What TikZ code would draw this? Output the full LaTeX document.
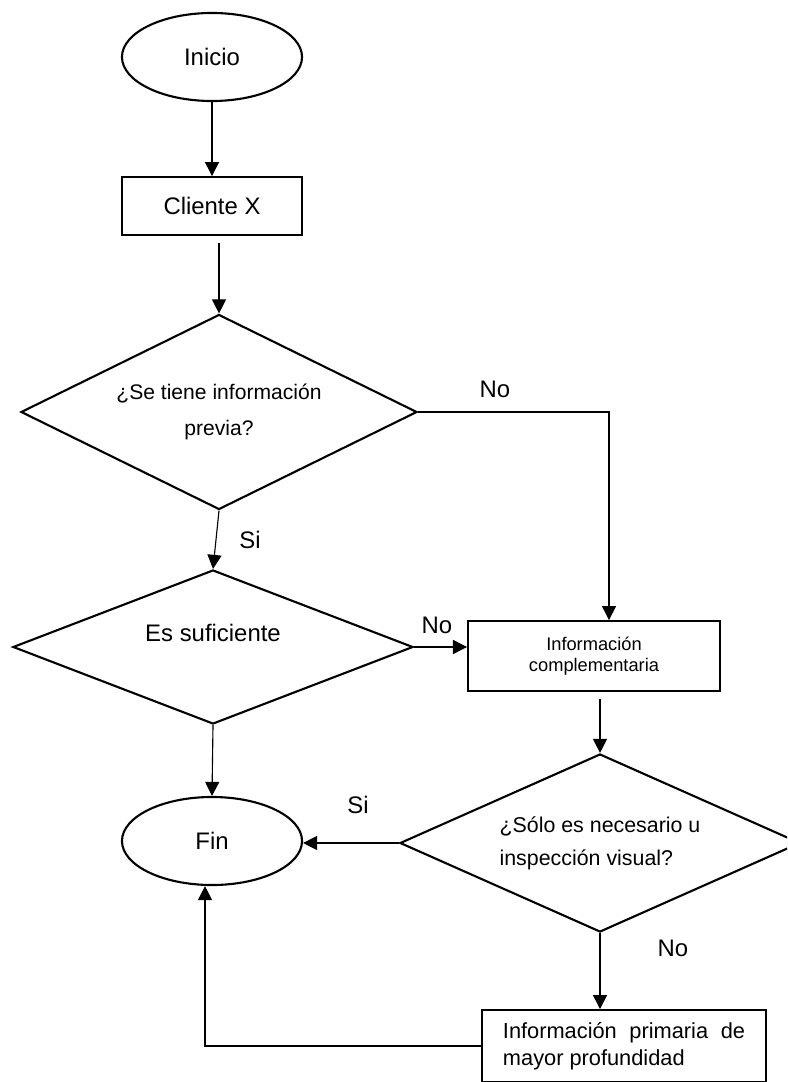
\documentclass[tikz,border=0pt]{standalone}
\usepackage{fontspec}
\setmainfont{Liberation Sans}
\usepackage{tikz}
\usetikzlibrary{shapes,arrows.meta,positioning,calc}
\tikzset{
    terminal/.style={ellipse, draw=black, line width=1.5pt, minimum width=4.5cm, minimum height=2.2cm, inner sep=0pt, font=\fontsize{17}{20}\selectfont},
    proceso/.style={rectangle, draw=black, line width=1.3pt, inner sep=0pt},
    decision/.style={diamond, draw=black, line width=1.5pt, inner sep=0pt},
    flecha/.style={line width=0.8pt, -{Triangle[width=10pt,length=10pt]}},
    etiqueta/.style={font=\fontsize{17}{20}\selectfont},
}
\begin{document}
\begin{tikzpicture}[x=0.025cm, y=-0.025cm]
    \useasboundingbox (0,0) rectangle (787,1082);
    \clip (0,0) rectangle (787,1082);

    % Inicio
    \node[terminal] (inicio) at (212,57) {Inicio};

    % Cliente
    \node[proceso, minimum width=4.5cm, minimum height=1.45cm, font=\fontsize{17}{20}\selectfont] (cliente) at (212,206) {Cliente X};
    \draw[flecha] (inicio) -- (cliente);

    % Primera decision
    \node[decision, aspect=2.03, minimum width=9.9cm, minimum height=4.875cm, align=center, font=\fontsize{15}{26}\selectfont] (previa) at (219,412) {¿Se tiene información\\previa?};
    \draw[flecha] ([yshift=-5pt]cliente.south -| previa.north) -- (previa.north);

    % Segunda decision
    \node[decision, aspect=2.6, minimum width=10cm, minimum height=3.85cm, text depth=0.7cm, font=\fontsize{17}{20}\selectfont] (suficiente) at (213,647) {Es suficiente};
    \draw[flecha] (previa.south) -- (suficiente.north);
    \node[etiqueta] (si1) at (250,540) {Si};

    % Informacion complementaria
    \node[proceso, minimum width=6.3cm, minimum height=1.75cm, align=center, font=\fontsize{13}{15}\selectfont] (compl) at (594,656) {Información\\complementaria};
    \draw[flecha] (previa.east) -| ([xshift=0.375cm]compl.north);
    \node[etiqueta] (no1) at (495,389) {No};
    \draw[flecha] (suficiente.east) -- (suficiente.east -| compl.west);
    \node[etiqueta] (no2) at (437,625) {No};

    % Tercera decision
    \node[decision, aspect=2.25, minimum width=10cm, minimum height=4.45cm, align=left, font=\fontsize{15.2}{23.5}\selectfont] (visual) at (600,843) {¿Sólo es necesario u\\inspección visual?};
    \draw[flecha] ([yshift=-5pt]compl.south -| visual.north) -- (visual.north);

    % Fin
    \node[terminal] (fin) at (212,841) {Fin};
    \draw[flecha] (suficiente.south) -- (fin.north);
    \draw[flecha] (visual.west) -- (visual.west -| fin.east);
    \node[etiqueta] (si2) at (358,805) {Si};

    % Informacion primaria
    \node[proceso, minimum width=7.1cm, minimum height=1.8cm, text width=6.05cm, align=justify, font=\fontsize{15.5}{19}\selectfont] (prim) at (624,1046) {Información primaria de mayor profundidad};
    \draw[flecha] (visual.south) -- (visual.south |- prim.north);
    \node[etiqueta] (no3) at (673,948) {No};
    \draw[flecha] (prim.west) -| ([xshift=-0.175cm]fin.south);
\end{tikzpicture}
\end{document}
